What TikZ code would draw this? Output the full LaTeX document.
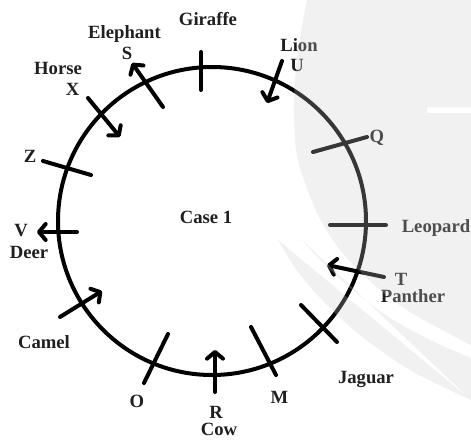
\documentclass[tikz,border=0pt]{standalone}
\usepackage{fontspec}
\setmainfont{Liberation Serif}
\usetikzlibrary{arrows.meta}
\begin{document}
\begin{tikzpicture}[x=0.75pt,y=-0.75pt,
  tickline/.style={line width=3pt,line cap=round,draw=black},
  arr/.style={line width=3pt,line cap=round,line join=round,draw=black,
    -{Straight Barb[length=5pt,width=12pt,line cap=round,line join=round]}},
  lbl/.style={anchor=base,inner sep=0pt,text=black!88,font=\fontsize{14}{16}\selectfont\bfseries},
  wm/.style={fill={rgb,255:red,204;green,204;blue,204},fill opacity=0.27,draw=none}]
\useasboundingbox (0,0) rectangle (471,439);
\fill[white] (0,0) rectangle (471,439);
% circle
\coordinate (c) at (212,221);
\draw[line width=3pt] (c) circle[radius=154];
% ticks
\coordinate (g1) at (201,52);  \coordinate (g2) at (201,90);
\coordinate (z1) at (43,161);  \coordinate (z2) at (91,175);
\coordinate (o1) at (144,383); \coordinate (o2) at (168,334);
\coordinate (m1) at (251,327); \coordinate (m2) at (276,375);
\coordinate (j1) at (301,305); \coordinate (j2) at (337,342);
\coordinate (l1) at (330,225); \coordinate (l2) at (386,225);
\coordinate (q1) at (313,152); \coordinate (q2) at (367,137);
\draw[tickline] (g1) -- (g2);
\draw[tickline] (z1) -- (z2);
\draw[tickline] (o1) -- (o2);
\draw[tickline] (m1) -- (m2);
\draw[tickline] (j1) -- (j2);
\draw[tickline] (l1) -- (l2);
\draw[tickline] (q1) -- (q2);
% arrows
\coordinate (e1) at (163,107); \coordinate (e2) at (132,63);
\coordinate (h1) at (88,98);   \coordinate (h2) at (120,137);
\coordinate (d1) at (77,232);  \coordinate (d2) at (37,232);
\coordinate (ca1) at (60,317); \coordinate (ca2) at (102,291);
\coordinate (r1) at (215,392); \coordinate (r2) at (215,350);
\coordinate (p1) at (384,277); \coordinate (p2) at (327,265);
\coordinate (u1) at (282,61);  \coordinate (u2) at (267,103);
\draw[arr] (e1) -- (e2);
\draw[arr] (h1) -- (h2);
\draw[arr] (d1) -- (d2);
\draw[arr] (ca1) -- (ca2);
\draw[arr] (r1) -- (r2);
\draw[arr] (p1) -- (p2);
\draw[arr] (u1) -- (u2);
% labels
\node[lbl] (tGiraffe) at (208,25) {Giraffe};
\node[lbl] (tElephant) at (124.5,38) {Elephant};
\node[lbl] (tS) at (127,59) {S};
\node[lbl] (tHorse) at (58,74) {Horse};
\node[lbl] (tX) at (72.5,95) {X};
\node[lbl] (tZ) at (30,162) {Z};
\node[lbl] (tV) at (21,236) {V};
\node[lbl] (tDeer) at (29,258) {Deer};
\node[lbl] (tCamel) at (44,348) {Camel};
\node[lbl] (tO) at (137,407) {O};
\node[lbl] (tR) at (216,418) {R};
\node[lbl] (tCow) at (219,435) {Cow};
\node[lbl] (tM) at (279.5,403) {M};
\node[lbl] (tJaguar) at (366,383) {Jaguar};
\node[lbl] (tT) at (401,285) {T};
\node[lbl] (tPanther) at (413,302) {Panther};
\node[lbl] (tLeopard) at (436,232) {Leopard};
\node[lbl] (tQ) at (377,142) {Q};
\node[lbl] (tLion) at (299,51) {Lion};
\node[lbl] (tU) at (297,71) {U};
\node[lbl] (tCase) at (206,223) {Case 1};
% watermark
\path[wm,even odd rule] (471,345) -- (471,0) -- (307,0)
  plot[smooth] coordinates {(307,0) (298,50) (294,100) (296,150) (304,180) (318,215) (340,250) (372,283) (410,312) (471,345)}
  (427,107) rectangle (471,113);
\path[wm] (278,240) -- (302,240)
  plot[smooth] coordinates {(302,240) (325,265) (355,292) (390,318) (430,340) (471,358)}
  -- (471,400)
  plot[smooth] coordinates {(471,400) (410,370) (360,335) (325,303) (298,272) (278,240)} -- cycle;
\end{tikzpicture}
\end{document}
